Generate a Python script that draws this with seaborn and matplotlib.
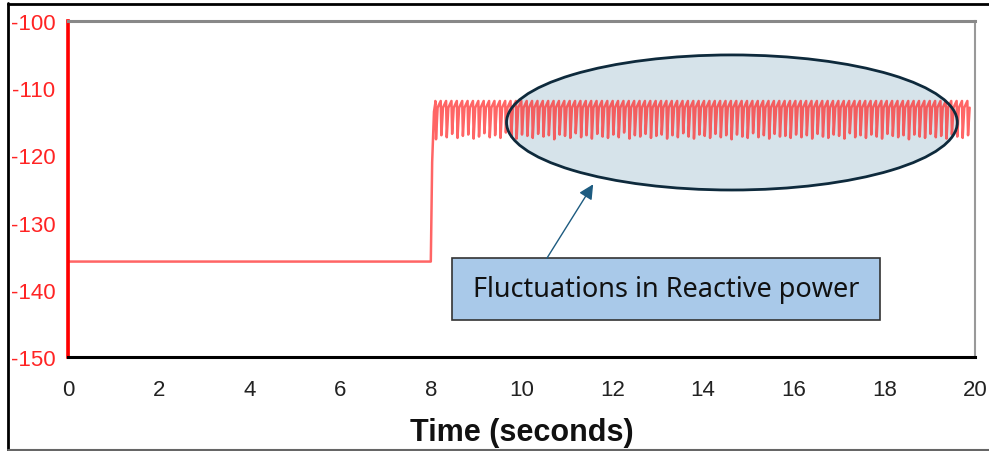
import pandas as pd
import matplotlib.pyplot as plt
from matplotlib.patches import Ellipse, Rectangle
from matplotlib.lines import Line2D
import seaborn as sns

# Values
start_values = [-100.0, -150.0, -135.8]   # transient at t = 0
base_level = -135.8
step_time = 8.0
rise_times = [8.0, 8.03, 8.07, 8.10]
rise_values = [-135.8, -121.0, -113.5, -112.2]
peak_level = -111.9
cycle_start = 8.10
cycle_period = 0.1185
trough_levels = [
    -117.6, -117.0, -117.3, -116.8, -117.4, -117.1, -116.9, -117.5, -117.2, -116.7,
    -117.3, -117.0, -117.4, -116.6, -117.2, -117.5, -116.9, -117.1, -117.4, -116.8,
    -117.2, -117.0, -117.6, -116.9, -117.1, -117.4, -116.7, -117.3, -117.0, -117.5,
    -116.8, -117.2, -117.4, -116.9, -117.3, -116.6, -117.5, -117.0, -117.2, -116.8,
    -117.4, -117.1, -116.9, -117.5, -117.0, -117.3, -116.7, -117.2, -117.5, -116.9,
    -117.1, -117.4, -116.8, -117.3, -117.0, -117.6, -116.9, -117.2, -117.4, -116.7,
    -117.3, -117.0, -117.5, -116.8, -117.2, -117.1, -117.4, -116.9, -117.3, -117.0,
    -117.5, -116.8, -117.2, -117.4, -116.9, -117.1, -117.5, -116.7, -117.3, -117.0,
    -117.4, -116.9, -117.2, -117.5, -116.8, -117.1, -117.3, -117.0, -117.6, -116.9,
    -117.2, -117.4, -116.8, -117.3, -117.1, -117.5, -116.9, -117.2, -117.4, -117.0,
]
x_ticks = [0, 2, 4, 6, 8, 10, 12, 14, 16, 18, 20]
y_ticks = [-150, -140, -130, -120, -110, -100]
x_label = "Time (seconds)"
note_text = "Fluctuations in Reactive power"


def build_series():
    t = [0.0, 0.0, 0.0] + [step_time] + rise_times[1:]
    q = list(start_values) + [base_level] + rise_values[1:]
    for i, trough in enumerate(trough_levels):
        t0 = cycle_start + i * cycle_period
        if t0 > 20:
            break
        t += [t0, t0 + 0.015, t0 + 0.05]
        q += [peak_level, trough, peak_level - 1.0]
    return pd.DataFrame({"time": t, "q": q})


df = build_series()

sns.set_style("white")
tick_font = ["Liberation Sans", "DejaVu Sans"]

fig = plt.figure(figsize=(9.89, 4.52), dpi=100)
ax = fig.add_axes([68 / 989, 1 - 358 / 452, (975 - 68) / 989, (358 - 22) / 452])

# highlight ellipse fill sits under the trace
ax.add_patch(Ellipse((14.64, -115.1), 9.94, 20.1, facecolor="#d6e3ea",
                     edgecolor="none", zorder=1))

sns.lineplot(data=df, x="time", y="q", sort=False, estimator=None,
             color="#ff2a2a", alpha=0.72, linewidth=1.8, ax=ax, zorder=2)

ax.add_patch(Ellipse((14.64, -115.1), 9.94, 20.1, facecolor="none",
                     edgecolor="#0e2a3c", linewidth=2.0, zorder=4))

ax.set_xlim(0, 20)
ax.set_ylim(-150, -100)
ax.set_xticks(x_ticks)
ax.set_yticks(y_ticks)
ax.set_xticklabels([str(v) for v in x_ticks], family=tick_font, fontsize=16, color="#222222")
ax.set_yticklabels([str(v) for v in y_ticks], family=tick_font, fontsize=16, color="#ff2424")
ax.tick_params(axis="both", length=5, width=1.5, color="#aaaaaa")
ax.tick_params(axis="x", pad=11)
ax.tick_params(axis="y", pad=4)
ax.set_ylabel("")
ax.set_xlabel(x_label, family=tick_font, fontsize=22, fontweight="bold",
              color="#111111", labelpad=12)

ax.spines["left"].set_color("#ff0000")
ax.spines["left"].set_linewidth(2.6)
ax.spines["bottom"].set_color("#000000")
ax.spines["bottom"].set_linewidth(2.2)
ax.spines["top"].set_color("#888888")
ax.spines["top"].set_linewidth(2.2)
ax.spines["right"].set_color("#999999")
ax.spines["right"].set_linewidth(1.5)

# callout box and arrow
ax.add_patch(Rectangle((8.47, -144.5), 9.43, 9.2, facecolor="#a9c9e9",
                       edgecolor="#333333", linewidth=1.2, zorder=5))
ax.text(13.18, -139.9, note_text, ha="center", va="center", fontsize=19.5,
        family=["Noto Sans", "DejaVu Sans"], color="#111111", zorder=6)
ax.annotate("", xy=(11.58, -124.3), xytext=(10.56, -135.3),
            arrowprops=dict(arrowstyle="-|>", color="#1d5b80", lw=1.0,
                            mutation_scale=22, shrinkA=0, shrinkB=0),
            zorder=6)

# outer screenshot frame
fig.add_artist(Line2D([8 / 989, 8 / 989], [0, 1 - 4 / 452], color="black", lw=2))
fig.add_artist(Line2D([8 / 989, 1], [1 - 5 / 452, 1 - 5 / 452], color="black", lw=2))
fig.add_artist(Line2D([8 / 989, 1], [1 / 452, 1 / 452], color="#666666", lw=1.5))

fig.savefig("out.png", dpi=100)
